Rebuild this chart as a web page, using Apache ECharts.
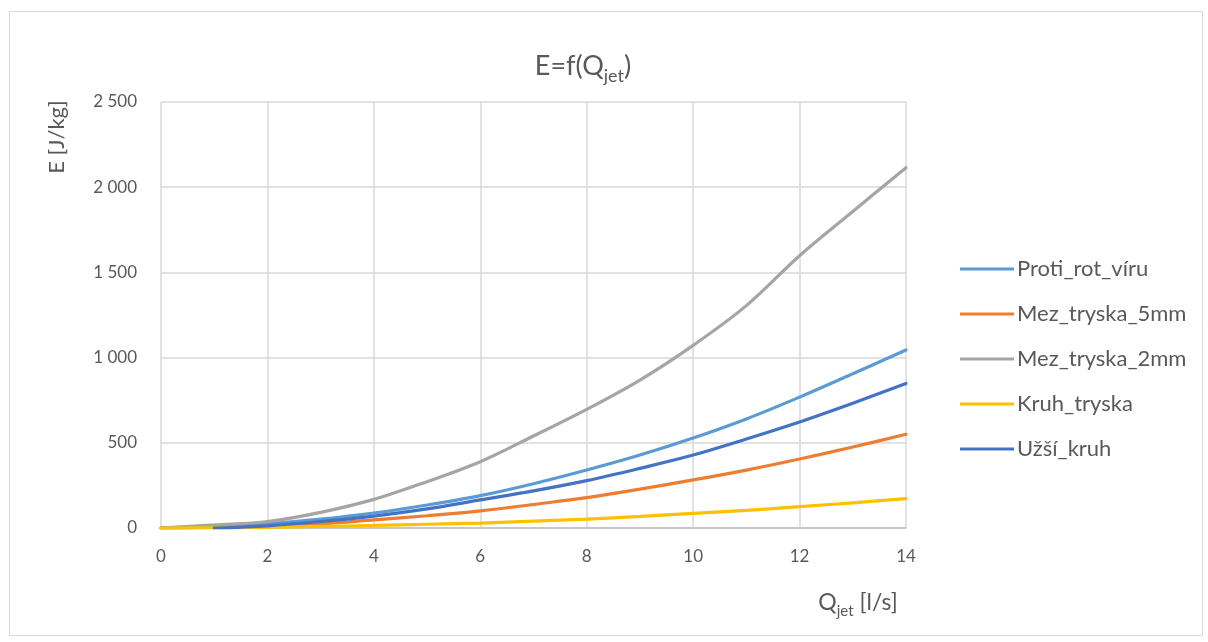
<!DOCTYPE html>
<html>
<head>
<meta charset="utf-8">
<script src="https://cdn.jsdelivr.net/npm/echarts@6/dist/echarts.min.js"></script>
<style>html,body{margin:0;padding:0;background:#fff;}#c{width:1208px;height:642px;}</style>
</head>
<body>
<div id="c"></div>
<script>
const seriesNames = ['Proti_rot_víru', 'Mez_tryska_5mm', 'Mez_tryska_2mm', 'Kruh_tryska', 'Užší_kruh'];
const xQ = [0, 1, 2, 3, 4, 5, 6, 7, 8, 9, 10, 11, 12, 13, 14];
const protiRotViru = [0, 6, 25, 52, 88, 135, 190, 260, 340, 428, 528, 640, 768, 905, 1045];
const mezTryska5mm = [0, 3, 10, 25, 48, 72, 100, 138, 178, 228, 282, 340, 405, 475, 550];
const mezTryska2mm = [0, 18, 38, 92, 168, 272, 389, 540, 696, 868, 1072, 1305, 1598, 1858, 2114];
const kruhTryska = [0, 1, 4, 9, 15, 22, 29, 40, 52, 68, 86, 104, 125, 148, 172];
const xUzsi = [1, 2, 3, 4, 5, 6, 7, 8, 9, 10, 11, 12, 13, 14];
const uzsiKruh = [0, 13, 38, 70, 112, 165, 218, 278, 350, 428, 522, 622, 732, 848];
const colors = ['#5B9BD5', '#ED7D31', '#A5A5A5', '#FFC000', '#4472C4'];

function pairs(xs, ys) { return xs.map((x, i) => [x, ys[i]]); }
const dataSets = [
  pairs(xQ, protiRotViru),
  pairs(xQ, mezTryska5mm),
  pairs(xQ, mezTryska2mm),
  pairs(xQ, kruhTryska),
  pairs(xUzsi, uzsiKruh)
];

const FONT = 'Lato';
const TXT = '#595959';
const chart = echarts.init(document.getElementById('c'), null, {renderer: 'canvas'});
chart.setOption({
  animation: false,
  backgroundColor: '#fff',
  textStyle: {fontFamily: FONT},
  color: colors,
  grid: {left: 161, right: 302, top: 102, bottom: 114, containLabel: false},
  xAxis: {
    type: 'value', min: 0, max: 14, interval: 2,
    axisLine: {show: true, lineStyle: {color: '#bfbfbf', width: 1.5}},
    axisTick: {show: false},
    splitLine: {show: true, lineStyle: {color: '#d9d9d9', width: 1.5}},
    axisLabel: {color: TXT, fontSize: 17, fontFamily: FONT, margin: 20}
  },
  yAxis: {
    type: 'value', min: 0, max: 2500, interval: 500,
    axisLine: {show: false},
    axisTick: {show: false},
    splitLine: {show: true, lineStyle: {color: '#d9d9d9', width: 1.5}},
    axisLabel: {
      color: TXT, fontSize: 17, fontFamily: FONT, margin: 24,
      formatter: v => String(v).replace(/\B(?=(\d{3})+(?!\d))/g, ' ')
    }
  },
  legend: {
    orient: 'vertical',
    left: 955, top: 253,
    itemWidth: 54, itemHeight: 18, itemGap: 23,
    icon: 'path://M0,8 L54,8 L54,11 L0,11 Z',
    textStyle: {color: TXT, fontSize: 22, lineHeight: 22, fontFamily: FONT, padding: [0, 0, 0, -2]},
    data: seriesNames
  },
  series: seriesNames.map((n, i) => ({
    name: n, type: 'line', smooth: 0.35, showSymbol: false, symbol: 'none',
    lineStyle: {width: 3.2, color: colors[i], cap: 'round'},
    itemStyle: {color: colors[i]},
    data: dataSets[i],
    z: 2 + i
  })),
  graphic: [
    {type: 'rect', left: 7, top: 9, shape: {width: 1193, height: 624},
     style: {fill: 'none', stroke: '#d9d9d9', lineWidth: 1}, silent: true},
    {type: 'text', x: 583, y: 66,
     style: {text: '{n|E=f(Q}{s|jet}{n|)}', align: 'center', verticalAlign: 'middle',
       rich: {n: {fontSize: 27, fontFamily: FONT, fill: TXT, lineHeight: 38},
              s: {fontSize: 18, fontFamily: FONT, fill: TXT, lineHeight: 18, verticalAlign: 'bottom'}}}},
    {type: 'text', x: 57, y: 137, rotation: Math.PI / 2,
     style: {text: 'E [J/kg]', align: 'center', verticalAlign: 'middle', fontSize: 22, fontFamily: FONT, fill: TXT}},
    {type: 'text', x: 858, y: 603,
     style: {text: '{n|Q}{s|jet}{n| [l/s]}', align: 'center', verticalAlign: 'middle',
       rich: {n: {fontSize: 23, fontFamily: FONT, fill: TXT, lineHeight: 32},
              s: {fontSize: 15, fontFamily: FONT, fill: TXT, lineHeight: 15, verticalAlign: 'bottom'}}}}
  ]
});
</script>
</body>
</html>
